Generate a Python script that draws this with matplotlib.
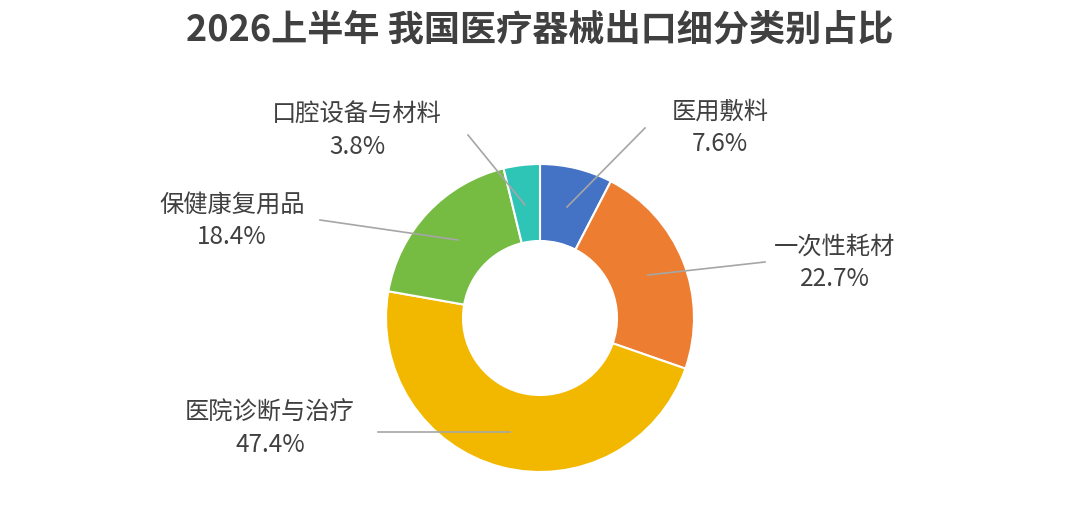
import matplotlib
matplotlib.use("Agg")
import matplotlib.pyplot as plt

plt.rcParams['font.family'] = ['Noto Sans CJK SC', 'DejaVu Sans']

categories = ["医用敷料", "一次性耗材", "医院诊断与治疗", "保健康复用品", "口腔设备与材料"]
values = [7.6, 22.7, 47.4, 18.4, 3.8]
colors = ["#4472C4", "#ED7D31", "#F2B800", "#76BC43", "#2EC4B6"]

W, H = 1080, 524
fig = plt.figure(figsize=(10.8, 5.24), dpi=100)
ax = fig.add_axes([0, 0, 1, 1])

cx, cy, R = 540, H - 318, 154
ax.pie(values, colors=colors, startangle=90, counterclock=False, center=(cx, cy),
       radius=R, wedgeprops=dict(width=R - 77, edgecolor='white', linewidth=1.5), frame=True)
ax.set_xlim(0, W); ax.set_ylim(0, H); ax.set_aspect('equal'); ax.axis('off')

# label positions (image px): text center, line start, line end
layout = [
    ((720, 112), (567, 207), (645, 128)),
    ((835, 247), (648, 275), (765, 262)),
    ((270, 413), (510, 432), (378, 432)),
    ((232, 205), (458, 240), (320, 220)),
    ((357, 115), (525, 205), (468, 135)),
]
for cat, v, (tp, a, b) in zip(categories, values, layout):
    ax.plot([a[0], b[0]], [H - a[1], H - b[1]], color='#A6A6A6', lw=1.2)
    ax.text(tp[0], H - tp[1], cat, ha='center', va='center', fontsize=17.5, color='#404040')
    ax.text(tp[0], H - tp[1] - 32, f"{v}%", ha='center', va='center', fontsize=17.5, color='#404040')

ax.text(540, H - 30, "2026上半年 我国医疗器械出口细分类别占比", ha='center', va='center',
        fontsize=26, fontweight='bold', color='#404040')

fig.savefig("out.png", dpi=100, facecolor='white')
